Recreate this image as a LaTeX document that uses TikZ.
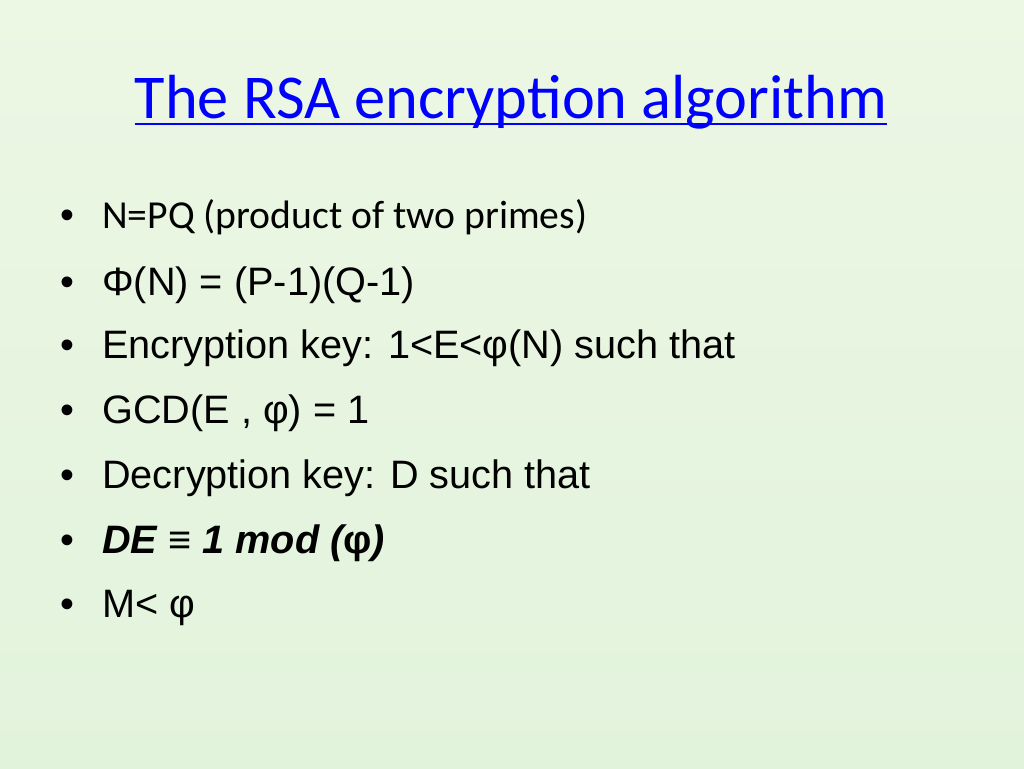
\documentclass[tikz,border=0pt]{standalone}
\usepackage{fontspec}
\setmainfont{Liberation Sans}
\newfontfamily\carlitofont{Carlito}
\begin{document}
\begin{tikzpicture}[x=0.024805cm,y=-0.024805cm,
  bl/.style={anchor=base west,inner sep=0pt,font=\fontsize{28}{32}\selectfont},
  dot/.style={anchor=base west,inner sep=0pt,font=\fontsize{28}{32}\selectfont}]
\shade[top color={rgb,255:red,236;green,247;blue,228},bottom color={rgb,255:red,226;green,243;blue,220}] (0,0) rectangle (1024,768);
\useasboundingbox (0,0) rectangle (1024,768);
\node[anchor=base,inner sep=0pt,font=\carlitofont\fontsize{44}{50}\selectfont,text=blue] (t) at (511,118) {The RSA encryption algorithm};
\draw[blue,line width=1.6pt] ([yshift=-4pt]t.base west) -- ([yshift=-4pt]t.base east);
\foreach \y/\n in {228/1,295/2,358/3,423/4,488/5,553/6,617/7}{\node[dot] (d\n) at (60,\y) {•};}
\node[bl,font=\carlitofont\fontsize{28}{32}\selectfont] (b1) at (102,228) {N=PQ (product of two primes)};
\node[bl] (b2) at (102,295) {Φ(N) = (P-1)(Q-1)};
\node[bl] (b3) at (102,358) {Encryption key: 1<E<φ(N) such that};
\node[bl] (b4) at (102,423) {GCD(E , φ) = 1};
\node[bl] (b5) at (102,488) {Decryption key: D such that};
\node[bl] (b6) at (102,553) {\bfseries\itshape DE ≡ 1 mod (\upshape φ\itshape)};
\node[bl] (b7) at (102,617) {M< φ};
\end{tikzpicture}
\end{document}
